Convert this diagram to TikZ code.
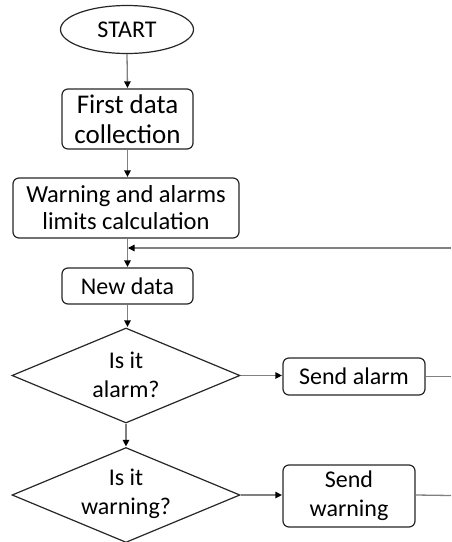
\documentclass[tikz,border=0pt]{standalone}
\usepackage{fontspec}
\setmainfont{Carlito}
\usetikzlibrary{shapes.geometric,arrows.meta}

\tikzset{
  base/.style={draw=black!85, line width=1.2pt, fill=white, inner sep=0pt,
    font=\fontsize{24}{29}\selectfont, align=center},
  roundbox/.style={base, rectangle, rounded corners=6pt},
  terminal/.style={base, ellipse},
  decision/.style={base, diamond},
  label/.style={font=\fontsize{24}{29}\selectfont, align=center, inner sep=0pt},
  link/.style={draw=black!50, line width=1.3pt},
  flow/.style={link, -{Triangle[length=6.5pt,width=6.5pt,color=black]}, shorten >=0.5pt}
}

\begin{document}
\begin{tikzpicture}[x=1pt,y=-1pt]
  \useasboundingbox (0,0) rectangle (451,542);

  % process steps
  \node[terminal, minimum width=133pt, minimum height=48pt] (start) at (127,29.5) {START};
  \node[roundbox, minimum width=131pt, minimum height=60pt,
        font=\fontsize{27}{30}\selectfont] (first) at (127.5,119) {First data\\collection};
  \node[roundbox, minimum width=226pt, minimum height=60pt,
        font=\fontsize{24.5}{27}\selectfont] (limits) at (126,208)
        {Warning and alarms\\limits calculation};
  \node[roundbox, minimum width=131pt, minimum height=36pt] (newdata) at (127.5,286) {New data};

  % decisions
  \node[decision, minimum width=228pt, minimum height=95pt] (alarm) at (126,375.5) {};
  \node[label] at ([yshift=1pt]alarm.center) {Is it\\alarm?};
  \node[decision, minimum width=228pt, minimum height=95pt] (warn) at (126,495) {};
  \node[label] at ([yshift=1pt]warn.center) {Is it\\warning?};

  % actions
  \node[roundbox, minimum width=142pt, minimum height=37pt] (sendalarm) at (354,376.5) {Send alarm};
  \node[roundbox, minimum width=132pt, minimum height=62pt] (sendwarn) at (349,496) {Send\\warning};

  % loose ends running off to the right
  \coordinate (backin) at (451,248);
  \coordinate (join) at (127.5,248);
  \coordinate (alarmout) at (451,376.5);
  \coordinate (warnout) at (451,495.5);

  % connectors
  \draw[flow] (start.south) -- (first.north);
  \draw[flow] (first.south) -- (limits.north -| first.south);
  \draw[flow] (limits.south -| newdata.north) -- (newdata.north);
  \draw[flow] (backin) -- (join);
  \draw[flow] (newdata.south) -- (newdata.south |- alarm.north);
  \draw[flow] (alarm.east) -- (sendalarm.west |- alarm.east);
  \draw[flow] (alarm.south) -- (warn.north);
  \draw[flow] (warn.east) -- (sendwarn.west |- warn.east);
  \draw[link] (sendalarm.east) -- (alarmout);
  \draw[link] (sendwarn.east |- warn.east) -- (warnout);
\end{tikzpicture}
\end{document}
